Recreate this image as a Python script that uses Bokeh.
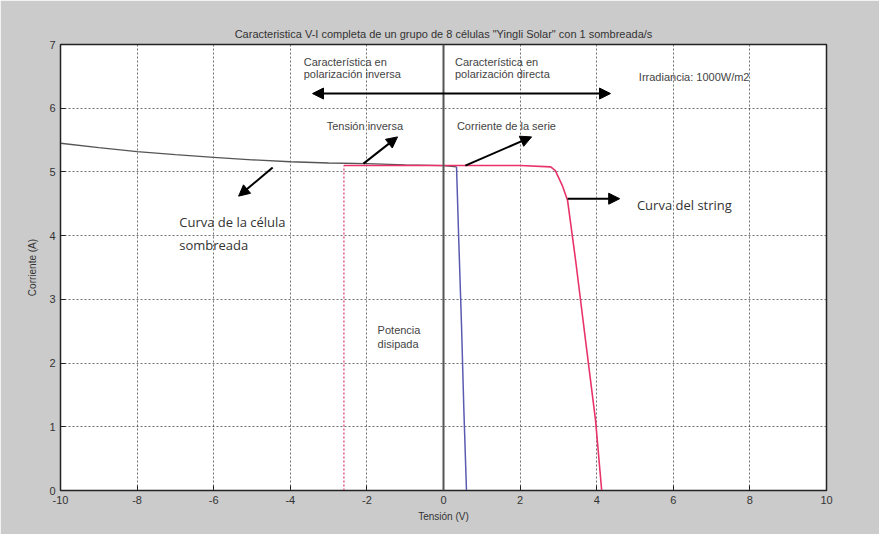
from bokeh.plotting import figure
from bokeh.models import Label, Arrow, NormalHead, Span, FixedTicker
from bokeh.embed import file_html
from bokeh.resources import INLINE

# Shaded cell curve (reverse + forward)
cell_v = [-10, -9, -8, -7, -6, -5, -4, -3, -2, -1, 0, 0.34]
cell_i = [5.45, 5.38, 5.32, 5.27, 5.23, 5.19, 5.16, 5.14, 5.13, 5.11, 5.10, 5.08]
# Dissipated power / drop of the shaded cell
drop_v = [0.34, 0.40, 0.47, 0.53, 0.60]
drop_i = [5.08, 3.9, 2.6, 1.3, 0.0]
# String curve
str_v = [-2.6, -1.0, 0.0, 1.0, 2.0, 2.8, 2.92, 3.1, 3.24, 3.45, 3.71, 3.97, 4.13]
str_i = [5.10, 5.10, 5.10, 5.10, 5.10, 5.08, 5.02, 4.79, 4.55, 3.61, 2.35, 1.10, 0.0]
# Reverse voltage marker
rev_v = [-2.6, -2.6]
rev_i = [0.0, 5.10]

x_ticks = [-10, -8, -6, -4, -2, 0, 2, 4, 6, 8, 10]
x_tick_labels = ["-10", "-8", "-6", "-4", "-2", "0", "2", "4", "6", "8", "10"]
y_ticks = [0, 1, 2, 3, 4, 5, 6, 7]

p = figure(width=879, height=534, x_range=(-10, 10), y_range=(0, 7),
           output_backend="svg", toolbar_location=None,
           min_border_left=60, min_border_right=53, min_border_top=44, min_border_bottom=44,
           title='Caracteristica V-I completa de un grupo de 8 células "Yingli Solar" con 1 sombreada/s')
p.title.align = "center"
p.title.text_font = "Liberation Sans"
p.title.text_font_size = "11px"
p.title.text_font_style = "normal"
p.title.text_color = "#333333"
p.border_fill_color = "#cbcbcb"
p.background_fill_color = "white"
p.outline_line_color = "#222222"
p.outline_line_width = 1.5

for ax in (p.xaxis[0], p.yaxis[0]):
    ax.major_tick_in = 5
    ax.major_tick_out = 0
    ax.minor_tick_in = 0
    ax.minor_tick_out = 0
    ax.axis_line_color = "#222222"
    ax.major_tick_line_color = "#222222"
    ax.major_label_text_font = "Liberation Sans"
    ax.major_label_text_font_size = "11px"
    ax.major_label_text_color = "#333333"
    ax.axis_label_text_font = "Liberation Sans"
    ax.axis_label_text_font_size = "10px"
    ax.axis_label_text_font_style = "normal"
    ax.axis_label_text_color = "#333333"
p.xaxis.ticker = FixedTicker(ticks=x_ticks)
p.xaxis.major_label_overrides = dict(zip(x_ticks, x_tick_labels))
p.yaxis.ticker = FixedTicker(ticks=y_ticks)
p.xaxis.axis_label = "Tensión (V)"
p.yaxis.axis_label = "Corriente (A)"
p.xaxis.axis_label_standoff = 4
p.yaxis.axis_label_standoff = 8

p.xgrid.grid_line_color = "#333333"
p.ygrid.grid_line_color = "#333333"
p.xgrid.grid_line_dash = "2 2"
p.ygrid.grid_line_dash = "2 2"
p.xgrid.grid_line_alpha = 0.7
p.ygrid.grid_line_alpha = 0.7

p.add_layout(Span(location=0, dimension="height", line_color="#555555", line_width=2))

p.line(cell_v, cell_i, line_color="#555555", line_width=1.3)
p.line(drop_v, drop_i, line_color="#5a5ab0", line_width=1.5)
p.line(rev_v, rev_i, line_color="#e0407a", line_width=1.3, line_dash="2 2")
p.line(str_v, str_i, line_color="#e8336a", line_width=1.6)

def arrow(x0, y0, x1, y1, both=False):
    p.add_layout(Arrow(x_start=x0, y_start=y0, x_end=x1, y_end=y1,
                       line_color="black", line_width=2,
                       end=NormalHead(size=11, fill_color="black", line_color="black"),
                       start=NormalHead(size=11, fill_color="black", line_color="black") if both else None))

arrow(-3.42, 6.23, 4.36, 6.23, both=True)
arrow(-2.09, 5.13, -1.2, 5.55)
arrow(0.57, 5.10, 2.3, 5.55)
arrow(-4.46, 5.07, -5.35, 4.62)
arrow(3.24, 4.58, 4.6, 4.58)

def label(x, y, t, size="11px", color="#444444", font="Liberation Sans"):
    p.add_layout(Label(x=x, y=y, text=t, text_font=font, text_font_size=size,
                       text_color=color, text_baseline="top", text_align="left"))

label(-3.65, 6.82, "Característica en")
label(-3.65, 6.63, "polarización inversa")
label(0.3, 6.82, "Característica en")
label(0.3, 6.63, "polarización directa")
label(5.1, 6.58, "Irradiancia: 1000W/m2")
label(-3.05, 5.82, "Tensión inversa")
label(0.35, 5.82, "Corriente de la serie")
label(-6.9, 4.36, "Curva de la célula", size="13px", color="#333333", font="Open Sans")
label(-6.9, 4.00, "sombreada", size="13px", color="#333333", font="Open Sans")
label(5.05, 4.62, "Curva del string", size="13px", color="#333333", font="Open Sans")
label(-1.72, 2.62, "Potencia")
label(-1.72, 2.40, "disipada")

open("out.html", "w").write(file_html(p, INLINE))
